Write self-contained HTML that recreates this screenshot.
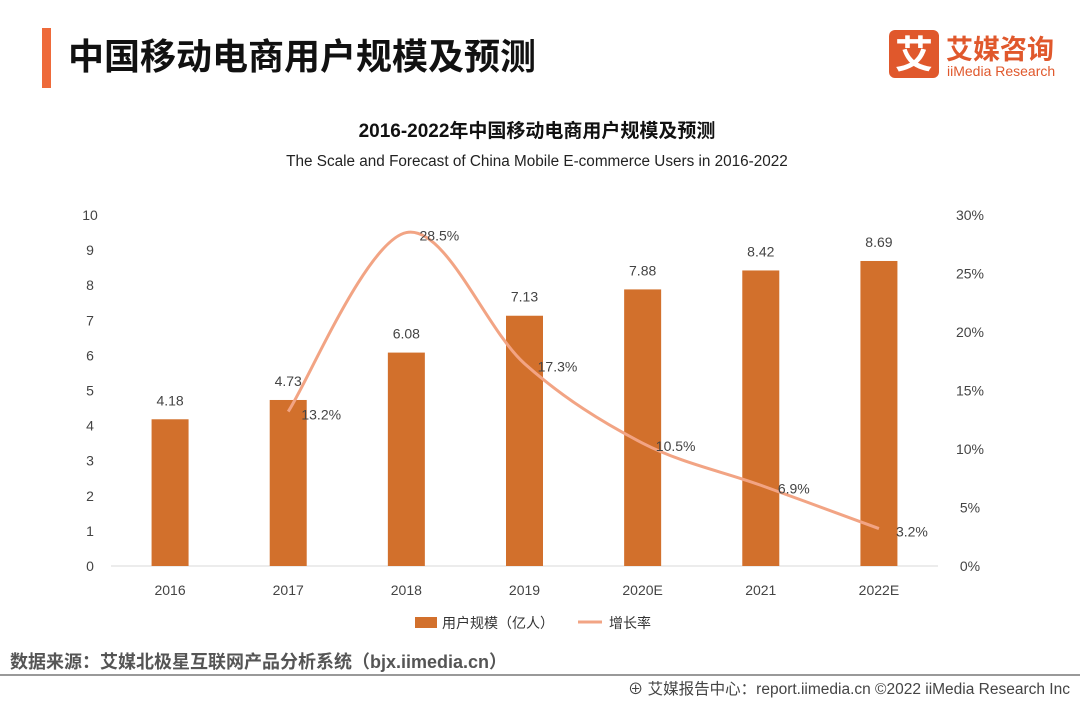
<!DOCTYPE html>
<html><head><meta charset="utf-8"><style>
body{margin:0;width:1080px;height:702px;background:#fff;overflow:hidden;font-family:"Liberation Sans","Noto Sans CJK SC",sans-serif;}
</style></head><body>
<svg width="1080" height="702" xmlns="http://www.w3.org/2000/svg" style="font-family:'Liberation Sans','Noto Sans CJK SC',sans-serif">
<rect x="42" y="28" width="9" height="60" fill="#ee6a3a"/>
<text x="68" y="69" font-size="36" font-weight="bold" fill="#111">中国移动电商用户规模及预测</text>
<g>
<rect x="889" y="30" width="50" height="48" rx="6" fill="#e0582c"/>
<text x="914" y="68" font-size="38" font-weight="bold" fill="#fff" text-anchor="middle">艾</text>
<text x="946" y="59" font-size="27" font-weight="bold" fill="#e0582c">艾媒咨询</text>
<text x="947" y="76" font-size="14" fill="#e0582c">iiMedia Research</text>
</g>
<text x="537" y="137" font-size="19" font-weight="bold" fill="#111" text-anchor="middle">2016-2022年中国移动电商用户规模及预测</text>
<text x="537" y="166" font-size="15.3" fill="#222" text-anchor="middle">The Scale and Forecast of China Mobile E-commerce Users in 2016-2022</text>
<g id="plot"></g>
<g>
<rect x="415" y="617" width="22" height="11" fill="#d2702c"/>
<text x="442" y="628" font-size="14" fill="#333">用户规模（亿人）</text>
<line x1="578" y1="622" x2="602" y2="622" stroke="#f2a484" stroke-width="3"/>
<text x="609" y="628" font-size="14" fill="#333">增长率</text>
</g>
<text x="10" y="668" font-size="18" font-weight="bold" fill="#555">数据来源：艾媒北极星互联网产品分析系统（bjx.iimedia.cn）</text>
<line x1="0" y1="675" x2="1080" y2="675" stroke="#999" stroke-width="2"/>
<text x="1070" y="694" font-size="15.5" fill="#444" text-anchor="end">⊕ 艾媒报告中心：report.iimedia.cn   ©2022  iiMedia Research  Inc</text>
</svg>
<script>
const categories=["2016","2017","2018","2019","2020E","2021","2022E"];
const users=[4.18,4.73,6.08,7.13,7.88,8.42,8.69];
const growth=[null,13.2,28.5,17.3,10.5,6.9,3.2];
const leftTicks=[0,1,2,3,4,5,6,7,8,9,10];
const rightTicks=[0,5,10,15,20,25,30];
const NS="http://www.w3.org/2000/svg";
const g=document.getElementById('plot');
const x0=111,x1=938,yB=566,yT=215;
const step=(x1-x0)/categories.length;
const xs=i=>x0+step*(i+0.5);
const yL=v=>yB-(v/10)*(yB-yT);
const yR=v=>yB-(v/30)*(yB-yT);
function mk(t,a,txt){const e=document.createElementNS(NS,t);for(const k in a)e.setAttribute(k,a[k]);if(txt!=null)e.textContent=txt;g.appendChild(e);return e;}
let e=mk('line',{x1:x0,y1:yB,x2:x1,y2:yB,stroke:'#d9d9d9'});


leftTicks.forEach(v=>{const t=mk('text',{x:90,y:yL(v)+5,'font-size':14,fill:'#444','text-anchor':'middle'},v);

});
rightTicks.forEach(v=>{const t=mk('text',{x:970,y:yR(v)+5,'font-size':14,fill:'#444','text-anchor':'middle'},v+'%');

});
categories.forEach((c,i)=>{const t=mk('text',{x:xs(i),y:595,'font-size':14,fill:'#444','text-anchor':'middle'},c);

});
users.forEach((v,i)=>{const b=mk('rect',{x:xs(i)-18.5,y:yL(v),width:37,height:yB-yL(v),fill:'#d2702c'});


const t=mk('text',{x:xs(i),y:yL(v)-14,'font-size':14,fill:'#444','text-anchor':'middle'},v.toFixed(2));

});
const pts=[];growth.forEach((v,i)=>{if(v!=null)pts.push([xs(i),yR(v)]);});
let d='M'+pts[0][0]+','+pts[0][1];
for(let i=0;i<pts.length-1;i++){const p0=pts[i-1]||pts[i],p1=pts[i],p2=pts[i+1],p3=pts[i+2]||p2;
const c1=[p1[0]+(p2[0]-p0[0])/6,p1[1]+(p2[1]-p0[1])/6],c2=[p2[0]-(p3[0]-p1[0])/6,p2[1]-(p3[1]-p1[1])/6];
d+=` C${c1[0]},${c1[1]} ${c2[0]},${c2[1]} ${p2[0]},${p2[1]}`;}
const ln=mk('path',{d:d,fill:'none',stroke:'#f2a484','stroke-width':3});


growth.forEach((v,i)=>{if(v==null)return;const t=mk('text',{x:xs(i)+33,y:yR(v)+8,'font-size':14,fill:'#444','text-anchor':'middle'},v.toFixed(1)+'%');

});
</script>
</body></html>
